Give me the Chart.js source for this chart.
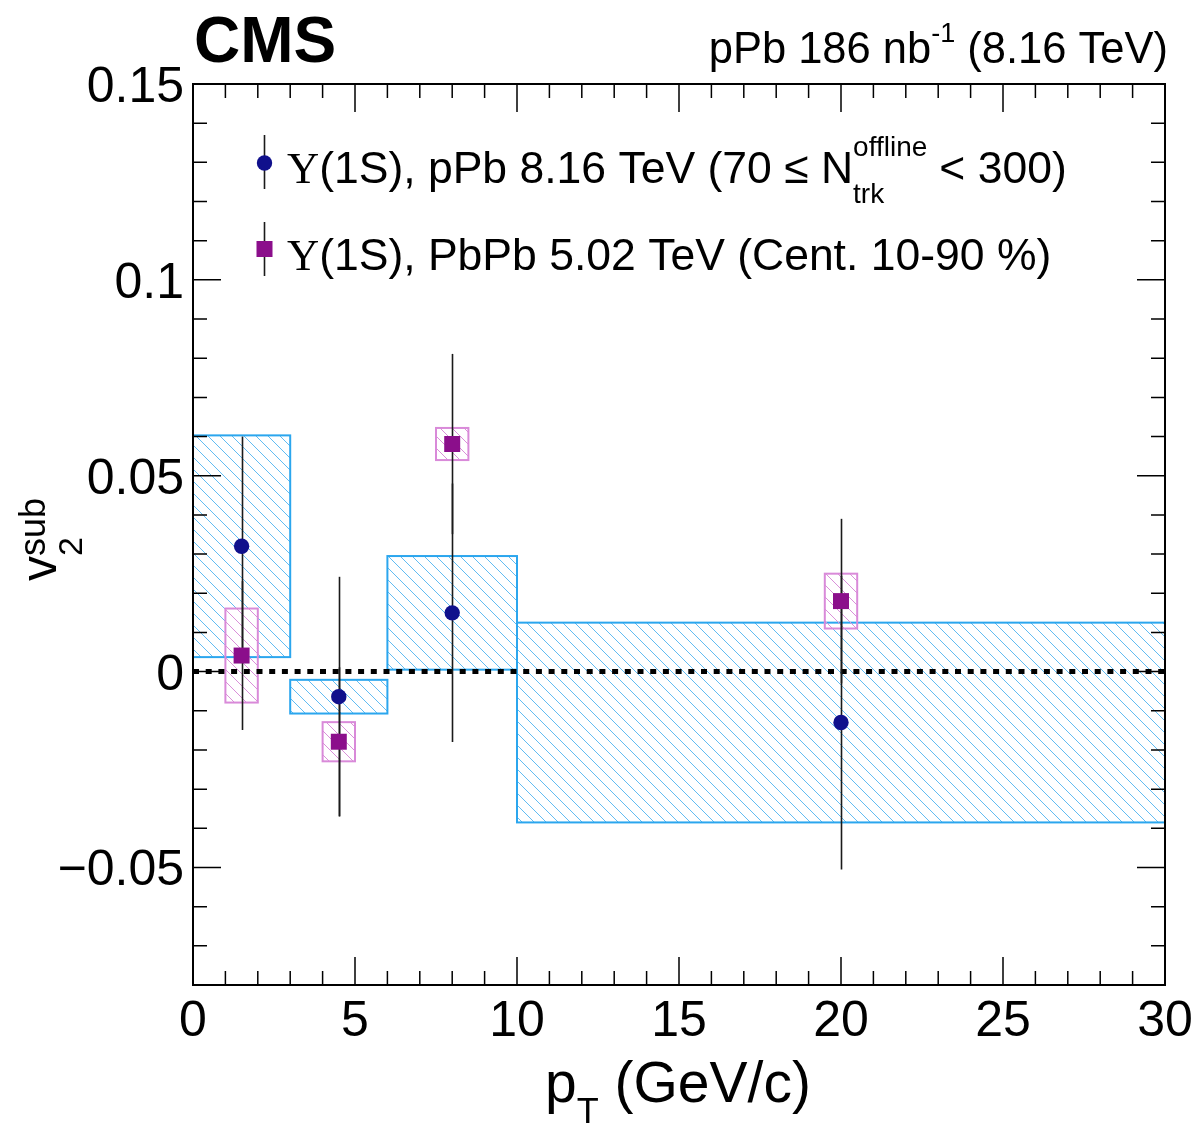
<!DOCTYPE html>
<html>
<head>
<meta charset="utf-8">
<script src="https://cdn.jsdelivr.net/npm/chart.js@4.4.1/dist/chart.umd.min.js"></script>
<style>
  html, body { margin: 0; padding: 0; background: #fff; }
  #wrap { width: 1198px; height: 1123px; }
</style>
</head>
<body>
<div id="wrap"><canvas id="v2Chart" width="1198" height="1123"></canvas></div>
<script>
// Upsilon(1S) in pPb 8.16 TeV, 70 <= Ntrk < 300
const ppbPt = [1.5, 4.5, 8, 20];
const ppbV2 = [0.032, -0.0064, 0.015, -0.013];
const ppbStat = [0.028, 0.0306, 0.033, 0.0375];
const ppbSys = [0.0283, 0.0043, 0.0145, 0.0255];
const ppbBinLow = [0, 3, 6, 10];
const ppbBinHigh = [3, 6, 10, 30];

// Upsilon(1S) in PbPb 5.02 TeV, cent. 10-90 %
const pbpbPt = [1.5, 4.5, 8, 20];
const pbpbV2 = [0.0041, -0.0179, 0.0581, 0.018];
const pbpbStat = [0.019, 0.019, 0.023, 0.021];
const pbpbSys = [0.012, 0.005, 0.0041, 0.007];

const xTicks = [0, 5, 10, 15, 20, 25, 30];
const xTickLabels = ['0', '5', '10', '15', '20', '25', '30'];
const yTicks = [-0.05, 0, 0.05, 0.1, 0.15];
const yTickLabels = ['\u22120.05', '0', '0.05', '0.1', '0.15'];

const SANS = '"Liberation Sans", Arial, Helvetica, sans-serif';
const SERIF = '"Liberation Serif", "Times New Roman", serif';
const ppbColor = '#10108c';
const pbpbColor = '#8b0e8b';

// box filled with "\\\" hatching, like ROOT fill style 3004
function sysBox(ctx, x1, y1, x2, y2, lineColor, edge) {
    ctx.save();
    ctx.beginPath();
    ctx.rect(x1, y1, x2 - x1, y2 - y1);
    ctx.clip();
    ctx.strokeStyle = lineColor;
    ctx.lineWidth = 1;
    ctx.beginPath();
    const step = 12;
    const h = y2 - y1;
    let start = Math.floor((x1 - h - y1) / step) * step + y1;
    for (let s = start; s < x2; s += step) {
        ctx.moveTo(s, y1);
        ctx.lineTo(s + h, y2);
    }
    ctx.stroke();
    ctx.restore();
    ctx.strokeStyle = edge;
    ctx.lineWidth = 2;
    ctx.strokeRect(x1, y1, x2 - x1, y2 - y1);
}

// draw a run of text pieces (for super/subscripts)
function runs(ctx, x, y, parts) {
    let cx = x;
    parts.forEach(p => {
        ctx.font = p.f;
        ctx.fillText(p.t, cx, y + (p.dy || 0));
        if (p.adv !== undefined) cx += p.adv;
        else cx += ctx.measureText(p.t).width;
    });
    return cx - x;
}

function measureRuns(ctx, parts) {
    let w = 0;
    parts.forEach(p => {
        ctx.font = p.f;
        w += p.adv !== undefined ? p.adv : ctx.measureText(p.t).width;
    });
    return w;
}

const overlay = {
    id: 'overlay',
    beforeDatasetsDraw(chart) {
        const { ctx, chartArea: a, scales: { x, y } } = chart;
        ctx.save();
        ctx.beginPath();
        ctx.rect(a.left, a.top, a.right - a.left, a.bottom - a.top);
        ctx.clip();

        ppbV2.forEach((v, i) => {
            sysBox(ctx,
                x.getPixelForValue(ppbBinLow[i]), y.getPixelForValue(v + ppbSys[i]),
                x.getPixelForValue(ppbBinHigh[i]), y.getPixelForValue(v - ppbSys[i]),
                '#62bcf2', '#2ba6ee');
        });
        pbpbV2.forEach((v, i) => {
            sysBox(ctx,
                x.getPixelForValue(pbpbPt[i] - 0.5), y.getPixelForValue(v + pbpbSys[i]),
                x.getPixelForValue(pbpbPt[i] + 0.5), y.getPixelForValue(v - pbpbSys[i]),
                '#d990d9', '#d98ad9');
        });

        // zero line
        const y0 = y.getPixelForValue(0);
        ctx.setLineDash([6, 6.7]);
        ctx.lineWidth = 5;
        ctx.strokeStyle = '#000';
        ctx.beginPath();
        ctx.moveTo(a.left, y0);
        ctx.lineTo(a.right, y0);
        ctx.stroke();
        ctx.setLineDash([]);

        // statistical error bars
        ctx.strokeStyle = '#1a1a1a';
        ctx.lineWidth = 1.6;
        const bar = (pt, v, e) => {
            const px = Math.round(x.getPixelForValue(pt)) + 0.5;
            ctx.beginPath();
            ctx.moveTo(px, y.getPixelForValue(v + e));
            ctx.lineTo(px, y.getPixelForValue(v - e));
            ctx.stroke();
        };
        ppbV2.forEach((v, i) => bar(ppbPt[i], v, ppbStat[i]));
        pbpbV2.forEach((v, i) => bar(pbpbPt[i], v, pbpbStat[i]));
        ctx.restore();
    },
    afterDraw(chart) {
        const { ctx, chartArea: a, scales: { x, y } } = chart;
        ctx.save();
        ctx.strokeStyle = '#000';
        ctx.fillStyle = '#000';

        // ticks, inside, mirrored
        ctx.lineWidth = 1.5;
        ctx.beginPath();
        for (let v = 0; v <= 30; v++) {
            const px = x.getPixelForValue(v);
            const len = v % 5 === 0 ? 28 : 14;
            ctx.moveTo(px, a.bottom); ctx.lineTo(px, a.bottom - len);
            ctx.moveTo(px, a.top); ctx.lineTo(px, a.top + len);
        }
        for (let k = -8; k <= 15; k++) {
            const py = y.getPixelForValue(k / 100);
            const len = k % 5 === 0 ? 28 : 14;
            ctx.moveTo(a.left, py); ctx.lineTo(a.left + len, py);
            ctx.moveTo(a.right, py); ctx.lineTo(a.right - len, py);
        }
        ctx.stroke();

        // frame
        ctx.lineWidth = 2;
        ctx.strokeRect(a.left, a.top, a.right - a.left, a.bottom - a.top);

        // tick labels
        ctx.font = '50px ' + SANS;
        ctx.textAlign = 'center';
        ctx.textBaseline = 'alphabetic';
        xTicks.forEach((v, i) => {
            ctx.fillText(xTickLabels[i], x.getPixelForValue(v), 1036);
        });
        ctx.textAlign = 'right';
        yTicks.forEach((v, i) => {
            ctx.fillText(yTickLabels[i], 184, y.getPixelForValue(v) + 18);
        });

        // axis titles
        ctx.textAlign = 'left';
        runs(ctx, 545, 1102, [
            { t: 'p', f: '57px ' + SANS },
            { t: 'T', f: '36px ' + SANS, dy: 22 },
            { t: ' (GeV/c)', f: '57px ' + SANS }
        ]);

        ctx.save();
        ctx.translate(56, 581);
        ctx.rotate(-Math.PI / 2);
        runs(ctx, 0, 0, [
            { t: 'v', f: '50px ' + SANS },
            { t: '2', f: '34px ' + SANS, dy: 26, adv: 0 },
            { t: 'sub', f: '36px ' + SANS, dy: -11 }
        ]);
        ctx.restore();

        // header
        ctx.font = 'bold 64px ' + SANS;
        ctx.fillText('CMS', 194, 62);
        const head = [
            { t: 'pPb 186 nb', f: '43.5px ' + SANS },
            { t: '-1', f: '27px ' + SANS, dy: -21 },
            { t: ' (8.16 TeV)', f: '43.5px ' + SANS }
        ];
        runs(ctx, 1168 - measureRuns(ctx, head), 63, head);

        // legend
        const lx = 264;
        ctx.lineWidth = 1.6;
        ctx.strokeStyle = '#1a1a1a';
        ctx.beginPath();
        ctx.moveTo(lx + 0.5, 135); ctx.lineTo(lx + 0.5, 189);
        ctx.moveTo(lx + 0.5, 222); ctx.lineTo(lx + 0.5, 276);
        ctx.stroke();
        ctx.fillStyle = ppbColor;
        ctx.beginPath();
        ctx.arc(lx + 0.5, 163, 7.7, 0, Math.PI * 2);
        ctx.fill();
        ctx.fillStyle = pbpbColor;
        ctx.fillRect(lx + 0.5 - 8, 249 - 8, 16, 16);

        ctx.fillStyle = '#000';
        ctx.font = '28px ' + SANS;
        const wOff = ctx.measureText('offline').width;
        runs(ctx, 287, 183, [
            { t: '\u03A5', f: '44.5px ' + SERIF },
            { t: '(1S), pPb 8.16 TeV (70 \u2264 N', f: '44.5px ' + SANS },
            { t: 'offline', f: '28px ' + SANS, dy: -27, adv: 0 },
            { t: 'trk', f: '28px ' + SANS, dy: 20, adv: wOff + 12 },
            { t: '< 300)', f: '44.5px ' + SANS }
        ]);
        runs(ctx, 287, 270, [
            { t: '\u03A5', f: '44.5px ' + SERIF },
            { t: '(1S), PbPb 5.02 TeV (Cent. 10-90 %)', f: '44.5px ' + SANS }
        ]);
        ctx.restore();
    }
};

const ctx = document.getElementById('v2Chart').getContext('2d');
const v2Chart = new Chart(ctx, {
    type: 'scatter',
    data: {
        datasets: [{
            label: 'pPb 8.16 TeV',
            data: ppbPt.map((p, i) => ({ x: p, y: ppbV2[i] })),
            pointStyle: 'circle',
            pointRadius: 7.7,
            backgroundColor: ppbColor,
            borderWidth: 0
        }, {
            label: 'PbPb 5.02 TeV',
            data: pbpbPt.map((p, i) => ({ x: p, y: pbpbV2[i] })),
            pointStyle: 'rect',
            pointRadius: 11.3,
            backgroundColor: pbpbColor,
            borderWidth: 0
        }]
    },
    options: {
        responsive: false,
        animation: false,
        devicePixelRatio: 1,
        layout: {
            padding: { left: 193, right: 33, top: 84, bottom: 138 }
        },
        scales: {
            x: { type: 'linear', min: 0, max: 30, display: false },
            y: { type: 'linear', min: -0.08, max: 0.15, display: false }
        },
        plugins: {
            legend: { display: false },
            tooltip: { enabled: false }
        }
    },
    plugins: [overlay]
});
</script>
</body>
</html>
